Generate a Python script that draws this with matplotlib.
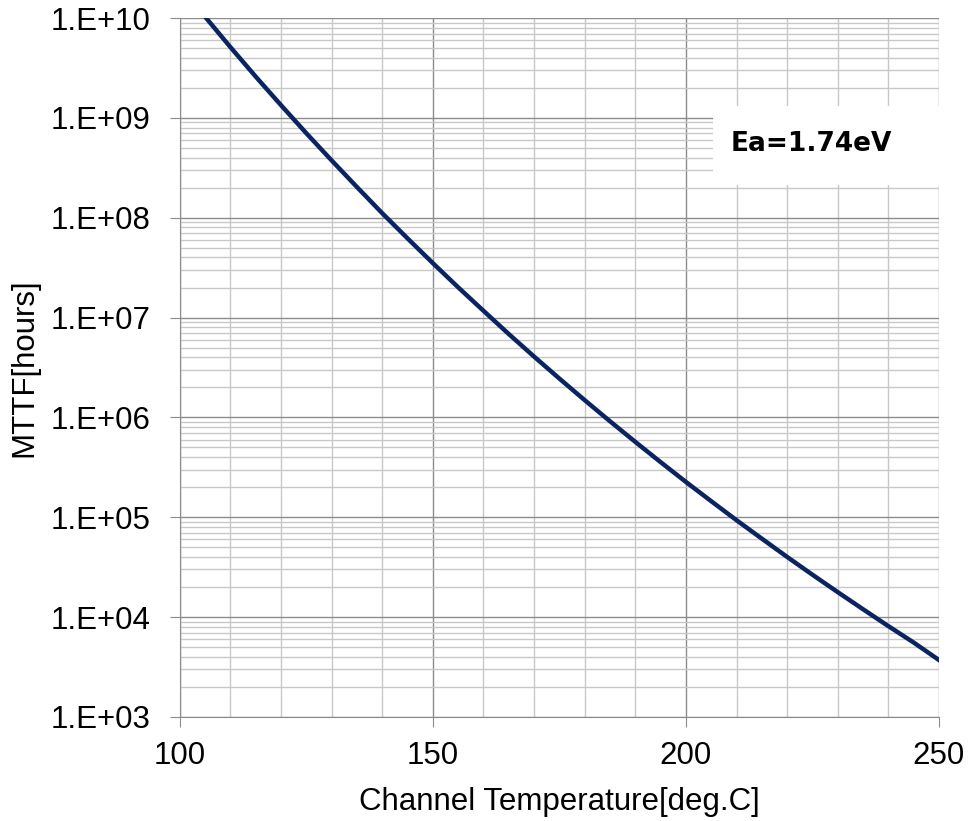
import numpy as np
import matplotlib
matplotlib.use("Agg")
from matplotlib import pyplot as plt
from matplotlib.ticker import FixedLocator, FuncFormatter, LogLocator, NullFormatter
from matplotlib.patches import Rectangle

# channel temperature (deg.C) and MTTF (hours)
temperature = [105, 110, 115, 120, 125, 130, 135, 140, 145, 150, 155, 160, 165, 170, 175,
               180, 185, 190, 195, 200, 205, 210, 215, 220, 225, 230, 235, 240, 245, 250]
mttf = [1.03e10, 5.11e9, 2.59e9, 1.34e9, 7.02e8, 3.75e8, 2.03e8, 1.11e8, 6.21e7, 3.51e7,
        2.01e7, 1.17e7, 6.84e6, 4.07e6, 2.45e6, 1.49e6, 9.16e5, 5.69e5, 3.57e5, 2.26e5,
        1.45e5, 9.35e4, 6.11e4, 4.01e4, 2.66e4, 1.78e4, 1.20e4, 8.13e3, 5.57e3, 3.72e3]
x_major = [100, 150, 200, 250]
x_minor = list(range(100, 251, 10))
annotation = "Ea=1.74eV"

plt.rcParams["font.family"] = ["Liberation Sans", "DejaVu Sans"]

fig = plt.figure(figsize=(9.72, 8.21), dpi=100)
ax = fig.add_axes([0.185, 0.1267, 0.781, 0.8513])

ax.plot(temperature, mttf, color="#0b2360", linewidth=3.2, solid_joinstyle="round", zorder=3)

ax.set_yscale("log")
ax.set_xlim(100, 250)
ax.set_ylim(1e3, 1e10)

ax.xaxis.set_major_locator(FixedLocator(x_major))
ax.xaxis.set_minor_locator(FixedLocator(x_minor))
ax.xaxis.set_minor_formatter(NullFormatter())
ax.yaxis.set_major_locator(LogLocator(base=10, numticks=20))
ax.yaxis.set_minor_locator(LogLocator(base=10, subs=np.arange(2, 10), numticks=20))
ax.yaxis.set_major_formatter(FuncFormatter(lambda v, p: "1.E+%02d" % int(round(np.log10(v)))))
ax.yaxis.set_minor_formatter(NullFormatter())
ax.xaxis.offsetText.set_visible(False)
ax.yaxis.offsetText.set_visible(False)

ax.grid(which="major", color="#8c8c8c", linewidth=1.0)
ax.grid(which="minor", color="#c8c8c8", linewidth=1.0)
ax.set_axisbelow(True)

for s in ["top", "right"]:
    ax.spines[s].set_visible(False)
for s in ["left", "bottom"]:
    ax.spines[s].set_color("#8c8c8c")

ax.tick_params(which="major", length=7, color="#8c8c8c", labelsize=22.5)
ax.tick_params(axis="y", which="major", pad=14)
ax.tick_params(axis="x", which="major", pad=10)
ax.tick_params(which="minor", length=0)

ax.set_xlabel("Channel Temperature[deg.C]", fontsize=22.5, labelpad=12)
ax.set_ylabel("MTTF[hours]", fontsize=22.5, labelpad=8)

ax.add_patch(Rectangle((0.702, 0.761), 0.30, 0.113, transform=ax.transAxes,
                       facecolor="white", edgecolor="none", zorder=4, clip_on=False))
ax.text(0.832, 0.820, annotation, transform=ax.transAxes, ha="center", va="center",
        fontsize=19, fontweight="bold", family="DejaVu Sans", zorder=5)

fig.savefig("out.png", dpi=100)
